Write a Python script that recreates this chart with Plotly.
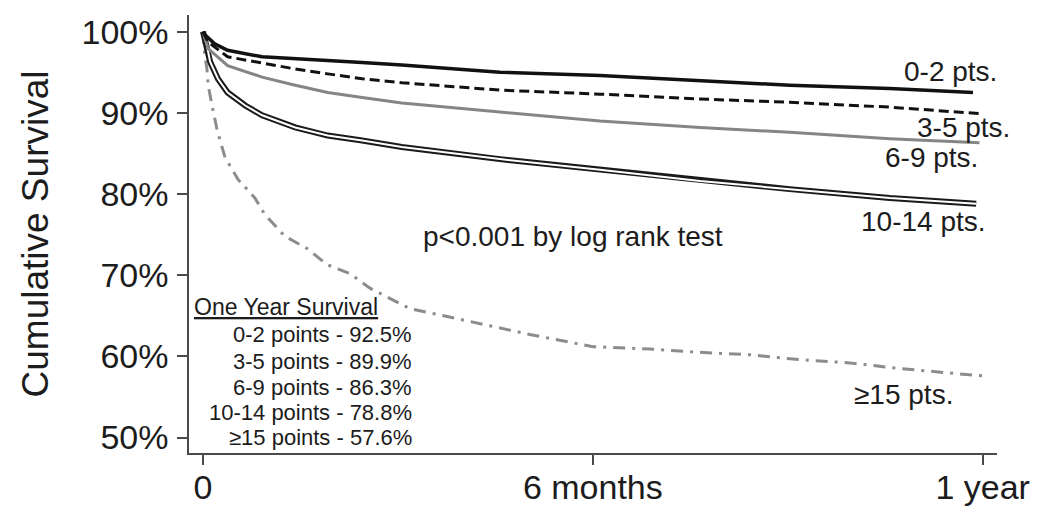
import plotly.graph_objects as go

# Kaplan-Meier survival by risk-score group (time in months, survival in %)
t_0_2 = [0, 0.03, 0.18, 0.38, 0.91, 1.42, 1.92, 2.45, 3.06, 4.57, 6.11, 7.65, 9.03, 10.57, 11.85]
s_0_2 = [100, 99.6, 98.5, 97.7, 96.9, 96.7, 96.5, 96.2, 95.9, 95.0, 94.6, 94.0, 93.4, 93.0, 92.5]

t_3_5 = [0, 0.08, 0.38, 0.91, 1.42, 1.92, 2.45, 3.06, 4.57, 6.11, 7.65, 9.03, 10.57, 11.95]
s_3_5 = [100, 98.7, 96.9, 96.1, 95.4, 94.8, 94.2, 93.7, 92.8, 92.3, 91.7, 91.3, 90.7, 89.9]

t_6_9 = [0, 0.08, 0.38, 0.91, 1.42, 1.92, 2.45, 3.06, 4.57, 6.11, 7.65, 9.03, 10.57, 11.95]
s_6_9 = [100, 97.9, 95.8, 94.4, 93.4, 92.5, 91.9, 91.2, 90.1, 89.0, 88.2, 87.6, 86.8, 86.3]

t_10_14 = [0, 0.06, 0.11, 0.23, 0.38, 0.65, 0.91, 1.42, 1.92, 2.45, 3.06, 4.57, 6.11, 7.65, 9.03, 10.57, 11.9]
s_10_14 = [100, 98.3, 96.3, 94.2, 92.5, 90.9, 89.7, 88.2, 87.2, 86.6, 85.8, 84.3, 83.0, 81.6, 80.6, 79.5, 78.8]

t_15 = [0, 0.03, 0.06, 0.08, 0.14, 0.22, 0.34, 0.54, 0.80, 0.95, 1.26, 1.60, 1.91, 2.26, 2.57,
        3.18, 4.11, 5.03, 6.0, 6.88, 7.65, 8.42, 9.18, 9.95, 10.72, 11.49, 12.0]
s_15 = [100, 97, 95.5, 93.4, 90.9, 87.8, 84.5, 81.8, 79.5, 77.5, 74.8, 73.3, 71.3, 70.2, 68.4,
        65.9, 64.3, 62.7, 61.2, 60.9, 60.5, 60.2, 59.6, 59.2, 58.5, 58.0, 57.6]

x_tick_vals = [0, 6, 12]
x_tick_text = ["0", "6 months", "1 year"]
y_tick_vals = [50, 60, 70, 80, 90, 100]
y_tick_text = ["50%", "60%", "70%", "80%", "90%", "100%"]

group_labels = ["0-2 pts.", "3-5 pts.", "6-9 pts.", "10-14 pts.", "\u226515 pts."]
summary_title = "One Year Survival"
summary_lines = ["0-2 points - 92.5%", "3-5 points - 89.9%", "6-9 points - 86.3%",
                 "10-14 points - 78.8%", "\u226515 points - 57.6%"]
p_text = "p<0.001 by log rank test"

FONT = "Liberation Sans, Arial, sans-serif"
INK = "#1c1c1c"

fig = go.Figure()

# >=15 points: grey dash-dot
fig.add_trace(go.Scatter(x=t_15, y=s_15, mode="lines",
                         line=dict(color="#8c8c8c", width=3, dash="12px,7px,3px,7px")))
# 10-14 points: double line (dark outer stroke with white core)
fig.add_trace(go.Scatter(x=t_10_14, y=s_10_14, mode="lines",
                         line=dict(color="#1a1a1a", width=6)))
fig.add_trace(go.Scatter(x=t_10_14, y=s_10_14, mode="lines",
                         line=dict(color="white", width=2)))
# 6-9 points: grey solid
fig.add_trace(go.Scatter(x=t_6_9, y=s_6_9, mode="lines",
                         line=dict(color="#858585", width=3)))
# 3-5 points: black dashed
fig.add_trace(go.Scatter(x=t_3_5, y=s_3_5, mode="lines",
                         line=dict(color="#111111", width=3, dash="10px,5px")))
# 0-2 points: black solid
fig.add_trace(go.Scatter(x=t_0_2, y=s_0_2, mode="lines",
                         line=dict(color="#111111", width=3.5)))

annotations = []
# curve labels
label_pos = [(11.5, 95.07), (11.71, 88.14), (11.21, 84.45), (11.09, 76.56), (10.78, 55.26)]
for text, (lx, ly) in zip(group_labels, label_pos):
    annotations.append(dict(x=lx, y=ly, xref="x", yref="y", text=text, showarrow=False,
                            xanchor="center", yanchor="middle",
                            font=dict(family=FONT, size=28, color=INK)))

annotations.append(dict(x=5.69, y=74.72, xref="x", yref="y", text=p_text, showarrow=False,
                        xanchor="center", yanchor="middle",
                        font=dict(family=FONT, size=28, color=INK)))

# one-year survival summary block
annotations.append(dict(x=-0.154, y=66.13, xref="x", yref="y", text="<u>" + summary_title + "</u>",
                        showarrow=False, xanchor="left", yanchor="middle", borderpad=0,
                        font=dict(family=FONT, size=23, color=INK)))
line_y = [62.65, 59.36, 56.12, 53.04, 49.96]
for text, ly in zip(summary_lines, line_y):
    annotations.append(dict(x=3.23, y=ly, xref="x", yref="y", text=text, showarrow=False,
                            xanchor="right", yanchor="middle", borderpad=0,
                            font=dict(family=FONT, size=22, color=INK)))

# y-axis title
annotations.append(dict(x=-0.19, y=0.50, xref="paper", yref="paper", text="Cumulative Survival",
                        showarrow=False, textangle=-90, xanchor="center", yanchor="middle",
                        font=dict(family=FONT, size=37, color=INK)))

fig.update_layout(
    width=1043, height=507,
    margin=dict(l=189, r=46, t=15, b=54),
    paper_bgcolor="white", plot_bgcolor="white",
    showlegend=False,
    annotations=annotations,
    xaxis=dict(range=[-0.215, 12.22], tickvals=x_tick_vals, ticktext=x_tick_text,
               automargin=False,
               showgrid=False, zeroline=False, showline=True, linecolor="#4a4a4a", linewidth=1.5,
               ticks="outside", ticklen=10, tickwidth=1.5, tickcolor="#4a4a4a",
               ticklabelstandoff=-7,
               tickfont=dict(family=FONT, size=34, color=INK)),
    yaxis=dict(range=[48.1, 102.05], tickvals=y_tick_vals, ticktext=y_tick_text,
               automargin=False,
               showgrid=False, zeroline=False, showline=True, linecolor="#4a4a4a", linewidth=1.5,
               ticks="outside", ticklen=10, tickwidth=1.5, tickcolor="#4a4a4a",
               ticklabelstandoff=2,
               tickfont=dict(family=FONT, size=34, color=INK)),
)

fig.write_html("out.html")
